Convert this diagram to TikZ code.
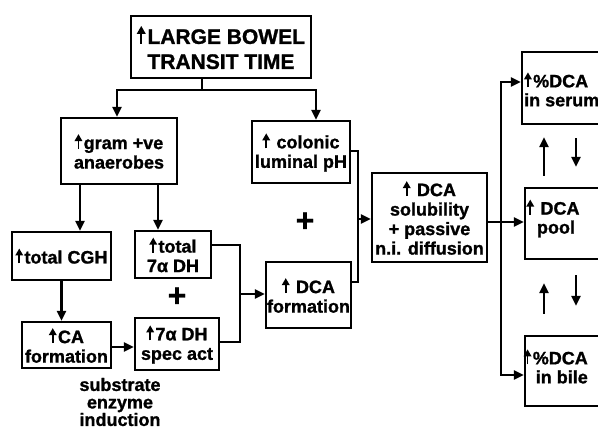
\documentclass[tikz,border=0pt]{standalone}
\usepackage{fontspec}
\setmainfont{Liberation Sans}[BoldFeatures={FakeBold=1.2}]
\usetikzlibrary{arrows.meta,calc}
\newcommand{\upa}{\tikz[baseline=0pt]\draw[line width=1.8pt,-{Triangle[length=7pt,width=7.5pt]}] (0pt,0pt) -- (0pt,15pt);\hspace{1.5pt}}
\newcommand{\upabig}{\tikz[baseline=0pt]\draw[line width=2pt,-{Triangle[length=8pt,width=8.5pt]}] (0pt,0pt) -- (0pt,18pt);\hspace{2pt}}
\begin{document}
\begin{tikzpicture}[x=1pt,y=-1pt,
  txt/.style={inner sep=0pt, align=center, font=\bfseries\fontsize{18}{19}\selectfont},
  box/.style={draw, line width=2.2pt, inner sep=1pt, align=center, font=\bfseries\fontsize{18}{19.5}\selectfont},
  conn/.style={line width=2.2pt},
  arr/.style={conn, -{Triangle[length=10pt,width=9pt]}},
  plus/.style={inner sep=0pt, font=\bfseries\fontsize{32}{32}\selectfont}]
\useasboundingbox (0,0) rectangle (598,430);
\clip (0,0) rectangle (598,430);
% boxes
\node[box, minimum width=180pt, minimum height=62pt, font=\bfseries\fontsize{21}{25}\selectfont] (top) at (221,47) {\upabig LARGE BOWEL\\TRANSIT TIME};
\node[box, minimum width=116pt, minimum height=66pt] (gram) at (119,151) {\upa gram +ve\\anaerobes};
\node[box, minimum width=98pt, minimum height=62pt] (col) at (301,152) {\upa\ colonic\\luminal pH};
\node[box, minimum width=99pt, minimum height=48pt] (cgh) at (61.5,256) {\upa total CGH};
\node[box, minimum width=76pt, minimum height=47pt] (dh) at (173,254.5) {\upa total\\7α DH};
\node[box, minimum width=89pt, minimum height=46pt] (ca) at (66.5,345) {\upa CA\\formation};
\node[box, minimum width=84pt, minimum height=52pt] (spec) at (177,344) {\upa 7α DH\\spec act};
\node[box, minimum width=85pt, minimum height=66pt] (dcaf) at (308.5,295) {\upa\ DCA\\formation};
\node[box, minimum width=115pt, minimum height=89pt] (sol) at (429.5,217.5) {\upa\ DCA\\solubility\\+ passive\\n.i. diffusion};
\node[box, minimum width=88pt, minimum height=72pt] (serum) at (566,88) {};
\node[box, minimum width=85pt, minimum height=71pt] (pool) at (567.5,223.5) {};
\node[box, minimum width=85pt, minimum height=70pt] (bile) at (567.5,371) {};
\node[txt, anchor=west, align=left] (serumt) at (524,89) {\upa\%DCA\\in serum};
\node[txt] (poolt) at (553,218) {\upa\ DCA\\\hspace{6pt}pool};
\node[txt, anchor=east, align=right] (bilet) at (588,366) {\upa\%DCA\\in bile};
\node[plus] (p1) at (177,297) {+};
\node[plus] (p2) at (305,222) {+};
\node[txt, font=\bfseries\fontsize{18}{17.5}\selectfont] (sub) at (120,402) {substrate\\enzyme\\induction};
% connectors
\coordinate (j1) at (202,90);
\draw[conn] (j1 |- top.south) -- (j1);
\draw[arr] (j1) -| ($(gram.north)+(-2,0)$);
\draw[arr] (j1) -| ($(col.north)+(15,0)$);
\coordinate (a1) at (80,0);
\coordinate (a2) at (158,0);
\draw[arr] (gram.south -| a1) -- (cgh.north -| a1);
\draw[arr] (gram.south -| a2) -- (dh.north -| a2);
\draw[arr] (cgh.south) -- (cgh.south |- ca.north);
\draw[arr] ($(ca.east)+(0,2)$) -- ($(ca.east -| spec.west)+(0,2)$);
\coordinate (b) at (240,294);
\draw[conn] ($(dh.east)+(0,-9.5)$) -| (b) |- ($(spec.east)+(0,-2)$);
\draw[arr] (b) -- (b -| dcaf.west);
\coordinate (c) at (358,219);
\draw[conn] ($(col.east)+(0,-1)$) -| (c) |- ($(dcaf.east)+(0,-13)$);
\draw[arr] (c) -- (c -| sol.west);
\coordinate (d) at (501,222);
\draw[conn] ($(sol.east)+(0,4.5)$) -- (d);
\draw[arr] (d) |- ($(serum.west)+(0,-6)$);
\draw[arr] (d) -- (d -| pool.west);
\draw[arr] (d) |- ($(bile.west)+(0,4)$);
\coordinate (u1) at (544,0);
\coordinate (u2) at (576,0);
\draw[arr] ($(pool.north -| u1)+(0,-11)$) -- ($(serum.south -| u1)+(0,12)$);
\draw[arr] ($(serum.south -| u2)+(0,13)$) -- ($(pool.north -| u2)+(0,-20)$);
\draw[arr] ($(bile.north -| u1)+(0,-21)$) -- ($(pool.south -| u1)+(0,23)$);
\draw[arr] ($(pool.south -| u2)+(0,15)$) -- ($(bile.north -| u2)+(0,-29)$);
\end{tikzpicture}
\end{document}
